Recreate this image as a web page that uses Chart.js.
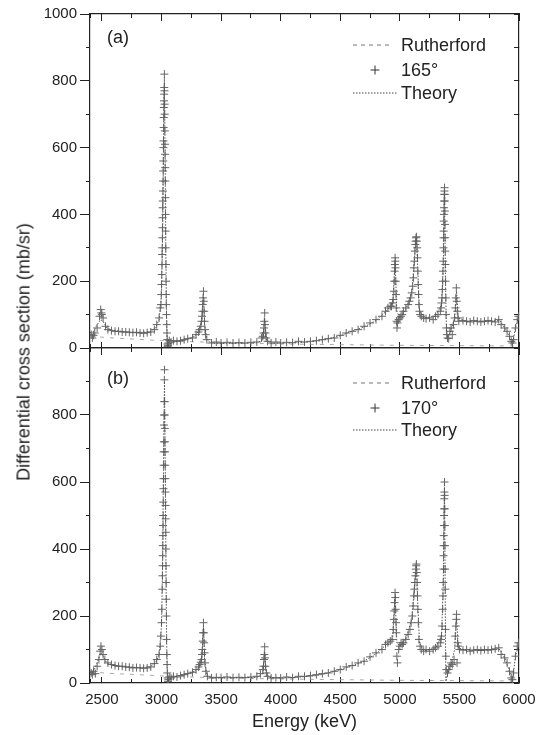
<!DOCTYPE html>
<html>
<head>
<meta charset="utf-8">
<script src="https://cdn.jsdelivr.net/npm/chart.js@4.4.1/dist/chart.umd.min.js"></script>
<style>
  html, body { margin: 0; padding: 0; background: #fff; }
  body { width: 542px; height: 735px; position: relative; overflow: hidden;
         font-family: "Liberation Sans", Arial, Helvetica, sans-serif; color: #222; }
  .panel { position: absolute; left: 0; width: 542px; }
  #ytitle { position: absolute; left: 24px; top: 352px; white-space: nowrap; font-size: 18px;
            transform: translate(-50%, -50%) rotate(-90deg); color: #222; }
</style>
</head>
<body>
<div class="panel" style="top:0;height:362px"><canvas id="panelA"></canvas></div>
<div class="panel" style="top:340px;height:395px"><canvas id="panelB"></canvas></div>
<div id="ytitle">Differential cross section (mb/sr)</div>
<script>
// ---- axis ticks ----
const energyTicks = [2500, 3000, 3500, 4000, 4500, 5000, 5500, 6000];
const sigmaTicks = [0, 200, 400, 600, 800, 1000];

// ---- (a) 165 degrees: measured points ----
const energy165 = [2410,2420,2430,2440,2460,2480,2490,2495,2500,2510,2530,2550,2580,2610,2640,2670,2700,2730,2760,2790,2820,2850,2880,2910,2940,2960,2980,2990,
  2996,2998,3000,3002,3004,3005,3006,3007,3008,3009,3010,3011,3012,3013,3014,3015,3016,3017,3018,3019,3020,3021,3022,3023,3024,3025,3026,3027,3028,3029,3030,3031,3032,3033,3034,3035,3036,3037,3038,3039,3040,3042,3044,3046,3048,3050,3052,3054,3058,3065,3080,3100,3130,3160,3190,3220,3260,3290,
  3310,3320,3330,3336,3340,3343,3346,3349,3352,3355,3358,3361,3365,3370,3380,3420,3460,3500,3550,3600,3650,3700,3750,3800,3840,3850,3856,3860,3863,3866,3869,3872,3878,3890,3920,3960,4000,4050,4100,4150,4200,4250,4300,4350,4400,4450,4500,4550,4600,4650,4700,4750,4800,4850,4880,4900,4920,
  4930,4940,4945,4950,4953,4956,4958,4960,4962,4964,4966,4968,4970,4973,4976,4980,4990,5000,5010,5020,5030,5050,5070,5080,5090,5100,5108,5114,5118,5122,5126,5130,5133,5136,5139,5142,5145,5148,5151,5154,5157,5160,5165,5170,5180,5200,5220,5250,5280,5300,5320,
  5340,5346,5350,5354,5357,5360,5362,5364,5366,5367,5368,5369,5370,5371,5372,5373,5374,5375,5376,5377,5378,5379,5380,5381,5382,5384,5386,5388,5391,5395,5400,5410,5420,5430,5440,5450,5460,5466,5470,5474,5478,5482,5488,5495,
  5530,5560,5590,5620,5650,5680,5710,5740,5770,5800,5830,5850,5880,5900,5920,5935,5945,5955,5970,5985,5995];
const sigma165 = [40,30,38,45,60,95,115,105,100,90,65,55,52,50,50,48,48,47,46,47,45,44,46,48,55,70,90,120,
  130,160,190,220,250,280,300,330,360,390,420,440,470,500,530,560,600,620,660,690,720,740,760,780,820,770,730,700,650,610,580,540,500,450,400,350,300,250,200,160,130,100,70,45,25,12,5,8,15,22,18,22,20,22,25,28,30,40,
  48,55,65,80,95,110,130,150,170,140,110,80,55,40,25,15,18,15,17,15,16,15,17,18,30,35,45,60,80,105,70,45,30,20,15,18,15,17,16,20,18,20,22,25,28,30,38,45,50,55,65,75,85,95,110,120,125,
  125,135,145,170,200,230,250,270,260,240,200,160,120,80,60,75,85,90,95,100,110,120,130,140,150,165,185,210,240,260,290,310,320,330,333,320,300,270,230,190,160,130,110,100,95,90,88,90,85,95,100,
  110,120,135,150,175,200,230,260,300,330,350,380,400,420,440,460,470,480,460,440,410,370,330,290,250,200,150,100,60,40,30,28,50,60,40,70,90,120,150,180,140,110,90,80,
  82,80,78,82,80,78,80,82,80,78,85,70,60,50,35,20,15,25,60,85,95];

// ---- (a) theory curve ----
const theoryEnergyA = [2400,2430,2460,2490,2510,2540,2600,2700,2800,2900,2950,2980,3000,3010,3018,3024,3030,3036,3042,3048,3053,3060,3100,3200,3280,3320,3340,3352,3362,3380,3420,3600,3800,3850,3866,3880,3920,4100,4300,4400,4500,4600,4700,4800,4900,4940,4960,4975,5000,5050,5100,5130,5139,5150,5165,5200,5300,5350,5365,5375,5383,5392,5400,5430,5460,5476,5490,5550,5700,5840,5880,5920,5945,5970,6000];
const theoryA = [45,50,70,85,80,60,52,48,46,48,60,85,160,350,650,810,600,300,100,20,0,10,18,24,35,55,90,160,70,25,14,14,15,25,90,25,14,15,20,27,37,50,63,82,115,135,260,110,90,115,165,300,330,240,110,90,95,130,250,470,200,40,30,55,90,170,90,80,80,82,60,35,10,60,95];

// ---- (b) 170 degrees: measured points ----
const energy170 = [2410,2420,2430,2445,2460,2475,2485,2492,2500,2510,2525,2550,2580,2610,2640,2670,2700,2730,2760,2790,2820,2850,2880,2910,2940,2960,2980,2990,
  2995,3000,3003,3006,3008,3009,3010,3011,3012,3013,3014,3015,3016,3017,3018,3019,3020,3021,3022,3023,3024,3025,3026,3027,3028,3029,3030,3031,3032,3033,3034,3035,3036,3037,3038,3039,3040,3041,3043,3045,3047,3049,3051,3054,3058,3065,3080,3100,3130,3160,3190,3220,3260,3290,
  3310,3320,3330,3336,3340,3343,3346,3349,3352,3355,3358,3361,3365,3372,3385,3420,3460,3500,3550,3600,3650,3700,3750,3800,3830,3850,3856,3860,3863,3866,3869,3872,3880,3890,3920,3960,4000,4050,4100,4150,4200,4250,4300,4350,4400,4450,4500,4550,4600,4650,4700,4750,4800,4850,4880,4900,4920,
  4935,4945,4950,4953,4956,4960,4962,4965,4968,4970,4975,4980,4990,5000,5010,5020,5030,5050,5070,5085,5095,5105,5112,5118,5122,5126,5130,5134,5137,5139,5142,5145,5148,5151,5155,5160,5170,5180,5200,5220,5250,5280,5300,5320,
  5340,5346,5350,5355,5360,5362,5364,5366,5367,5368,5369,5370,5371,5372,5373,5374,5375,5376,5377,5378,5379,5380,5381,5383,5386,5390,5400,5410,5420,5430,5440,5455,5465,5470,5474,5476,5480,5485,5490,5500,
  5530,5560,5590,5620,5650,5680,5710,5740,5770,5800,5830,5850,5880,5900,5920,5935,5945,5955,5970,5985,5995];
const sigma170 = [30,25,35,28,50,70,95,110,100,85,70,60,55,52,50,50,48,47,45,46,45,44,45,48,58,70,85,110,
  140,180,220,280,320,350,380,410,440,470,500,540,580,610,650,690,720,770,800,840,905,935,840,800,760,720,690,650,610,570,530,490,450,400,350,300,250,200,130,85,55,30,15,5,10,18,15,20,18,22,25,28,32,40,
  48,55,62,70,85,100,125,150,180,150,120,90,60,35,20,15,17,16,18,16,17,16,18,20,28,40,50,70,85,108,75,50,30,20,15,16,15,18,16,20,20,22,25,28,30,35,40,48,52,60,65,78,90,100,115,120,125,
  130,160,190,215,240,270,255,220,180,150,80,60,100,110,120,115,120,130,145,160,180,200,230,260,280,300,320,340,350,355,330,300,260,220,180,130,110,100,95,100,95,100,105,110,
  120,130,140,170,220,260,300,340,380,410,440,470,500,520,550,570,600,560,520,470,410,340,280,160,80,40,30,40,50,60,55,70,140,170,190,205,60,120,110,100,
  98,100,95,98,100,97,100,98,100,102,105,85,75,60,35,15,10,30,80,110,120];

// ---- (b) theory curve ----
const theoryEnergyB = [2400,2430,2460,2490,2510,2540,2600,2700,2800,2900,2950,2980,3000,3010,3018,3025,3032,3038,3044,3050,3054,3060,3100,3200,3280,3320,3340,3352,3362,3380,3420,3600,3800,3850,3866,3880,3920,4100,4300,4400,4500,4600,4700,4800,4900,4940,4960,4975,5000,5050,5100,5130,5139,5150,5165,5200,5300,5350,5365,5375,5381,5386,5395,5430,5460,5476,5490,5550,5700,5840,5880,5920,5945,5970,6000];
const theoryB = [30,35,60,90,80,60,52,48,46,48,60,85,170,380,700,900,620,320,100,20,0,10,18,25,35,50,85,170,70,22,15,15,17,28,95,25,15,16,22,30,40,52,65,88,118,135,260,120,110,130,190,320,350,240,120,95,105,140,300,590,250,0,20,55,100,195,105,98,98,100,75,35,5,80,115];

// ---- Rutherford cross section ----
const rutherfordEnergy = [2400,2600,2800,3000,3500,4000,4500,5000,5500,6000];
const rutherfordA = [35,30,26,22,16,12,10,8,7,6];
const rutherfordB = [33,28,25,21,15,12,10,8,7,6];

const FONT = '"Liberation Sans", Arial, Helvetica, sans-serif';
const INK = '#222';
const zip = (xs, ys) => xs.map((x, i) => ({ x, y: ys[i] }));

// legend block and panel tag drawn inside each plot
const panelKey = {
  id: 'panelKey',
  afterDraw(chart, args, o) {
    const { ctx, chartArea: a } = chart;
    ctx.save();
    ctx.fillStyle = INK;
    ctx.textBaseline = 'middle';
    ctx.font = '18px ' + FONT;
    ctx.fillText(o.tag, a.left + 17, a.top + o.tagY);
    const textX = a.right - 118, x0 = a.right - 166;
    o.rows.forEach((r, i) => {
      const y = a.top + o.rowY[i];
      ctx.strokeStyle = r.color;
      ctx.lineWidth = 1;
      if (r.kind === 'dash') {
        ctx.setLineDash([4, 4]);
        ctx.beginPath(); ctx.moveTo(x0, y); ctx.lineTo(x0 + 36, y); ctx.stroke();
      } else if (r.kind === 'dot') {
        ctx.setLineDash([1.5, 1.5]);
        ctx.beginPath(); ctx.moveTo(x0, y); ctx.lineTo(x0 + 45, y); ctx.stroke();
      } else {
        ctx.setLineDash([]);
        ctx.beginPath();
        ctx.moveTo(x0 + 22, y - 4.5); ctx.lineTo(x0 + 22, y + 4.5);
        ctx.moveTo(x0 + 17.5, y); ctx.lineTo(x0 + 26.5, y);
        ctx.stroke();
      }
      ctx.fillStyle = INK;
      ctx.fillText(r.text, textX, y + 1);
    });
    ctx.restore();
  }
};

// pin an axis box to a fixed thickness and drop the label overhang padding
function fix(dim, size) {
  return s => {
    s[dim] = size;
    s.paddingLeft = 0; s.paddingRight = 0; s.paddingTop = 0; s.paddingBottom = 0;
  };
}

function buildScales(p) {
  const grid = (len) => ({ drawOnChartArea: false, tickLength: len, tickColor: INK, tickWidth: 1 });
  const border = { color: INK, width: 1.2 };
  const hidden = { display: false };
  return {
    x: {
      type: 'linear', position: 'bottom', min: 2400, max: 6000, weight: 1,
      afterBuildTicks: s => { s.ticks = energyTicks.map(v => ({ value: v })); },
      ticks: p.xLabels
        ? { autoSkip: false, maxRotation: 0, padding: 14, color: INK, font: { family: FONT, size: 15 },
            callback: v => String(v) }
        : hidden,
      grid: grid(-6), border,
      title: p.xLabels
        ? { display: true, text: 'Energy (keV)', color: INK, font: { family: FONT, size: 18 }, padding: { top: 0, bottom: 2 } }
        : { display: false },
      afterFit: fix('height', p.bottomH)
    },
    xMinor: {
      type: 'linear', position: 'bottom', min: 2400, max: 6000, weight: 0,
      ticks: { display: false, stepSize: 250 }, grid: grid(-4), border: { display: false },
      afterFit: fix('height', 0)
    },
    xTop: {
      type: 'linear', position: 'top', min: 2400, max: 6000, weight: 1,
      afterBuildTicks: s => { s.ticks = energyTicks.map(v => ({ value: v })); },
      ticks: hidden, grid: grid(-7), border,
      afterFit: fix('height', p.topH)
    },
    xTopMinor: {
      type: 'linear', position: 'top', min: 2400, max: 6000, weight: 0,
      ticks: { display: false, stepSize: 250 }, grid: grid(-4), border: { display: false },
      afterFit: fix('height', 0)
    },
    y: {
      type: 'linear', position: 'left', min: 0, max: 1000, weight: 1,
      afterBuildTicks: s => { s.ticks = sigmaTicks.map(v => ({ value: v })); },
      ticks: { autoSkip: false, padding: 3, color: INK, font: { family: FONT, size: 15 },
               callback: v => (p.hideTopLabel && v === 1000) ? '' : String(v) },
      grid: grid(10), border,
      afterFit: fix('width', 90)
    },
    yMinor: {
      type: 'linear', position: 'left', min: 0, max: 1000, weight: 0,
      ticks: { display: false, stepSize: 100 }, grid: grid(4), border: { display: false },
      afterFit: fix('width', 0)
    },
    yRight: {
      type: 'linear', position: 'right', min: 0, max: 1000,
      ticks: { display: false, stepSize: 100 }, grid: grid(-5), border,
      afterFit: fix('width', 23)
    }
  };
}

function buildPanel(id, p) {
  return new Chart(document.getElementById(id), {
    type: 'scatter',
    data: {
      datasets: [
        { label: 'Theory', data: zip(p.thE, p.thV), showLine: true, pointRadius: 0,
          borderColor: '#555', borderWidth: 1, borderDash: [1.5, 1.5], order: 1 },
        { label: p.angle, data: zip(p.e, p.v), showLine: false, pointStyle: 'cross',
          pointRadius: 4, pointBorderWidth: 1, borderColor: '#666', backgroundColor: '#666', order: 2 },
        { label: 'Rutherford', data: zip(rutherfordEnergy, p.ruth), showLine: true, pointRadius: 0,
          borderColor: '#aaa', borderWidth: 1, borderDash: [4, 6], order: 3 }
      ]
    },
    options: {
      responsive: true, maintainAspectRatio: false, animation: false,
      layout: { padding: 0 },
      events: [],
      plugins: {
        legend: { display: false }, tooltip: { enabled: false },
        panelKey: { tag: p.tag, tagY: p.tagY, rowY: p.rowY, rows: [
          { kind: 'dash', text: 'Rutherford', color: '#777' },
          { kind: 'cross', text: p.angle, color: '#333' },
          { kind: 'dot', text: 'Theory', color: '#444' }
        ] }
      },
      scales: buildScales(p)
    },
    plugins: [panelKey]
  });
}

buildPanel('panelA', {
  tag: '(a)', tagY: 24, rowY: [31, 56, 79], angle: '165°',
  e: energy165, v: sigma165, thE: theoryEnergyA, thV: theoryA, ruth: rutherfordA,
  topH: 14, bottomH: 14, xLabels: false, hideTopLabel: false
});
buildPanel('panelB', {
  tag: '(b)', tagY: 31, rowY: [35, 60, 82], angle: '170°',
  e: energy170, v: sigma170, thE: theoryEnergyB, thV: theoryB, ruth: rutherfordB,
  topH: 8, bottomH: 52, xLabels: true, hideTopLabel: true
});
</script>
</body>
</html>
